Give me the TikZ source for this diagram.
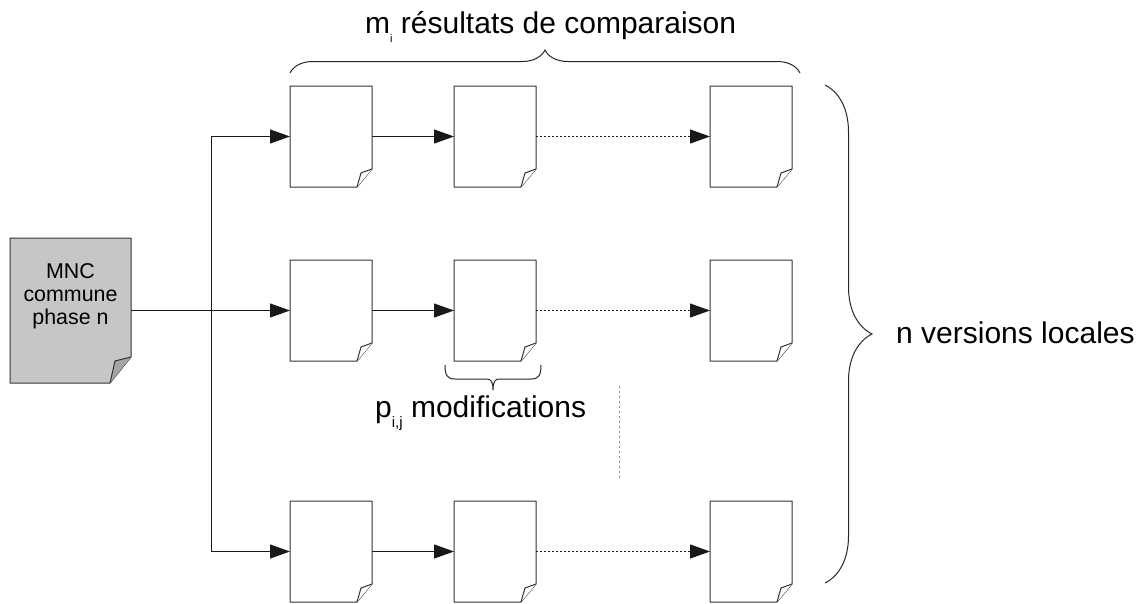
\documentclass[tikz,border=0pt]{standalone}
\usepackage{fontspec}
\setmainfont{Liberation Sans}
\usetikzlibrary{arrows.meta, decorations.pathreplacing, positioning}
\tikzset{
	docbox/.style={minimum width=82pt, minimum height=101pt, inner sep=0pt, outer sep=0pt},
	docline/.style={draw=black!80, line width=1pt, line join=round},
	docpage/.pic={
			\node[docbox] (-box) {};
			\draw[docline, fill=white]
			(-box.north west) --
			(-box.north east) --
			([yshift=18pt]-box.south east) --
			([xshift=-15pt]-box.south east) --
			(-box.south west) --
			cycle;
			\draw[docline, fill=white]
			([yshift=18pt]-box.south east) --
			([xshift=-11pt,yshift=14pt]-box.south east) --
			([xshift=-15pt]-box.south east);
		}
}
\tikzset{
	flow/.style={line width=1pt, draw=black!90, -{Triangle[length=20pt,width=14pt]}},
	dotflow/.style={flow, dash pattern=on 2pt off 2pt}
}
\tikzset{
	bracket/.style={decorate, decoration={brace, amplitude=#1}, line width=1pt, draw=black!85}
}
\tikzset{
	bigtext/.style={font=\fontsize{30}{36}\selectfont, inner sep=0pt},
	mnctext/.style={font=\fontsize{21.4}{23}\selectfont, align=center, inner sep=0pt}
}

\begin{document}
\begin{tikzpicture}[x=1pt, y=-1pt]

	\useasboundingbox (0,0) rectangle (1143,603);

	% common model
	\node[minimum width=121pt, minimum height=145pt, inner sep=0pt, outer sep=0pt] (mnc) at (70.5,310.5) {};
	\draw[docline, fill=gray!45]
	(mnc.north west) --
	(mnc.north east) --
	([yshift=26pt]mnc.south east) --
	([xshift=-21pt]mnc.south east) --
	(mnc.south west) --
	cycle;
	\draw[docline, fill=gray!70]
	([yshift=26pt]mnc.south east) --
	([xshift=-16pt,yshift=22pt]mnc.south east) --
	([xshift=-21pt]mnc.south east);
	\node[mnctext] (mnclabel) at (70.5,296) {MNC\\commune\\phase n};

	% local versions
	\begin{scope}
		\pic (a1) at (331,136.5) {docpage};
		\pic (a2) at (495,136.5) {docpage};
		\pic (a3) at (751,136.5) {docpage};

		\pic (b1) at (331,310.5) {docpage};
		\pic (b2) at (495,310.5) {docpage};
		\pic (b3) at (751,310.5) {docpage};

		\pic (c1) at (331,551.5) {docpage};
		\pic (c2) at (495,551.5) {docpage};
		\pic (c3) at (751,551.5) {docpage};
	\end{scope}

	\coordinate (bus) at (211,310.5);

	\draw[flow] (mnc) -- (b1-box);
	\draw[flow] (bus) |- (a1-box);
	\draw[flow] (bus) |- (c1-box);

	\draw[flow] (a1-box) -- (a2-box);
	\draw[flow] (b1-box) -- (b2-box);
	\draw[flow] (c1-box) -- (c2-box);
	\draw[dotflow] (a2-box) -- (a3-box);
	\draw[dotflow] (b2-box) -- (b3-box);
	\draw[dotflow] (c2-box) -- (c3-box);

	\draw[gray, line width=1pt, dash pattern=on 2pt off 3pt] (619,386) -- (619,480);

	% braces and labels
	\draw[bracket=23pt] (290,73) -- (800,73);
	\draw[line width=1pt, draw=black!85]
	(445,365) .. controls (445,375) and (447,379) .. (455,379) --
	(487,379) .. controls (491,379) and (493,382) .. (493,390) ..
	controls (493,382) and (495,379) .. (499,379) --
	(531,379) .. controls (539,379) and (541,375) .. (541,365);
	\draw[bracket=47pt] (825,85) -- (825,583);

	\node[bigtext, anchor=base west] (cmp) at (365,33) {m\raisebox{-9pt}{\fontsize{11}{11}\selectfont i} résultats de comparaison};
	\node[bigtext, anchor=base west] (mods) at (375,417) {p\raisebox{-10pt}{\fontsize{15}{15}\selectfont i,j} modifications};
	\node[bigtext, anchor=base west] (vers) at (896,343) {n versions locales};

\end{tikzpicture}
\end{document}
